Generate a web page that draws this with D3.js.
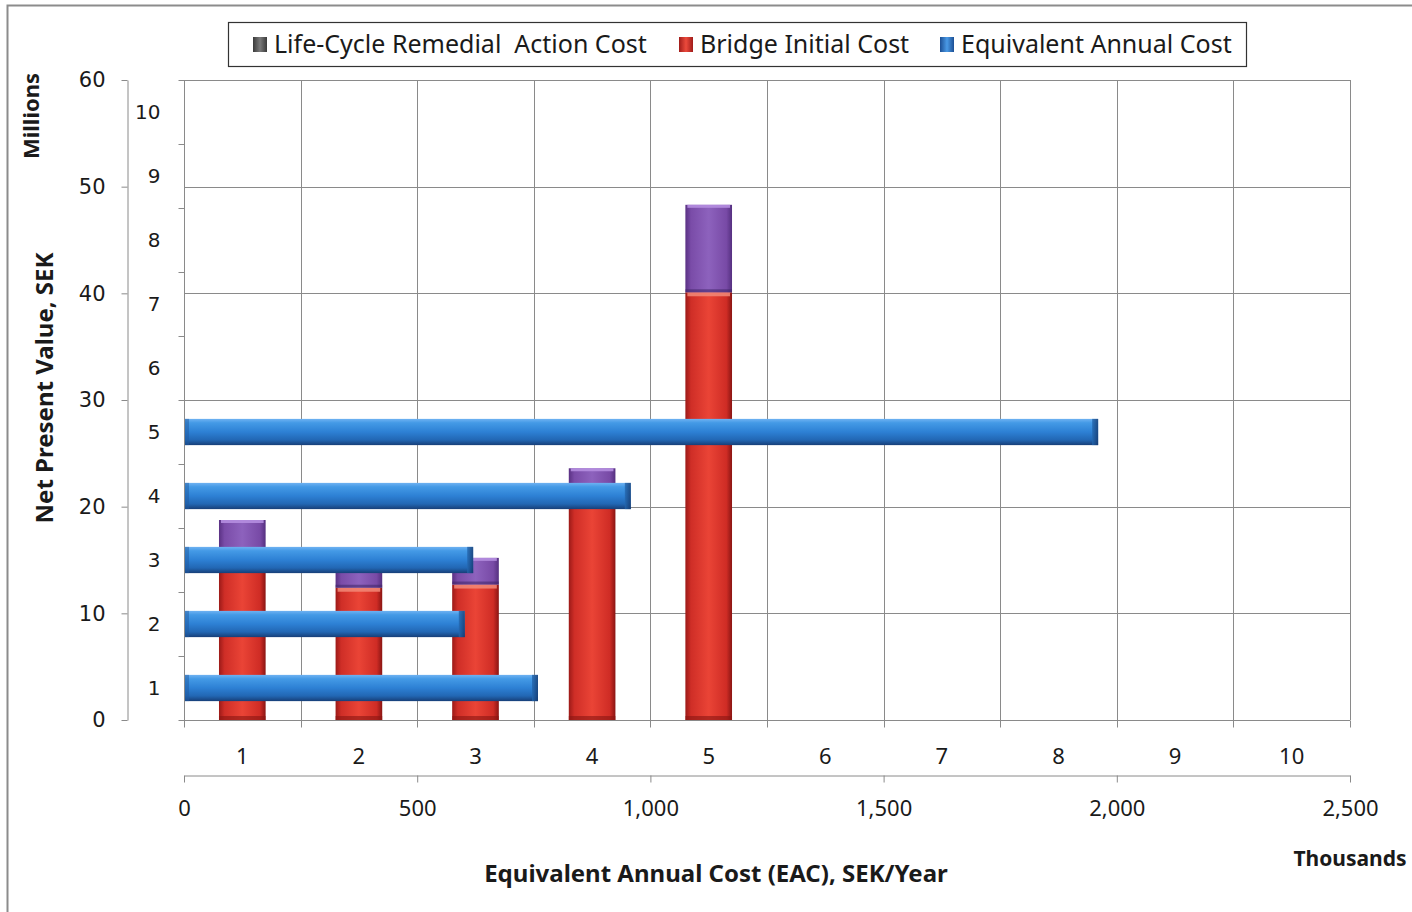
<!DOCTYPE html>
<html>
<head>
<meta charset="utf-8">
<script src="https://cdn.jsdelivr.net/npm/d3@7"></script>
<style>
  html, body { margin: 0; padding: 0; background: #ffffff; }
  svg { display: block; }
  text { fill: #1a1a1a; }
</style>
</head>
<body>
<svg id="chart" width="1412" height="912"></svg>
<script>
// ---- data ----------------------------------------------------------------
const categories = [1, 2, 3, 4, 5, 6, 7, 8, 9, 10];
const barCategories = [1, 2, 3, 4, 5];
// Net present value components, millions SEK
const initialCost = [15.3, 12.4, 12.7, 21.0, 40.1];
const remedialCost = [3.45, 2.6, 2.5, 2.6, 8.2];
// Equivalent annual cost, thousands SEK/year
const annualCost = [759, 602, 620, 958, 1960];
const npvTicks = [0, 10, 20, 30, 40, 50, 60];
const eacTicks = [0, 500, 1000, 1500, 2000, 2500];
const seriesNames = ["Life-Cycle Remedial  Action Cost", "Bridge Initial Cost", "Equivalent Annual Cost"];

// ---- layout --------------------------------------------------------------
const svg = d3.select("#chart");
const plot = { left: 184, right: 1350, top: 80, bottom: 720 };
const gridColor = "#8a8a8a";
const axisColor = "#8a8a8a";
const font = "'Noto Sans', sans-serif";

// chart frame (left and top edges of the chart area)
svg.append("path")
  .attr("d", "M7.5,912 V5.5 H1412")
  .attr("fill", "none").attr("stroke", "#8c8c8c").attr("stroke-width", 2);

// ---- scales --------------------------------------------------------------
const yNpv = d3.scaleLinear().domain([0, 60]).range([plot.bottom, plot.top]);
const xEac = d3.scaleLinear().domain([0, 2500]).range([plot.left, plot.right]);
const xCat = d3.scaleBand().domain(categories).range([plot.left, plot.right])
  .paddingInner(0.6).paddingOuter(0.3);
const yCat = d3.scaleBand().domain(categories).range([plot.bottom, plot.top])
  .paddingInner(0.59).paddingOuter(0.295);
const xStep = xCat.step();

// ---- gradients -----------------------------------------------------------
const defs = svg.append("defs");
function grad(id, horizontal, stops) {
  const g = defs.append("linearGradient").attr("id", id)
    .attr("x1", 0).attr("y1", 0)
    .attr("x2", horizontal ? 1 : 0).attr("y2", horizontal ? 0 : 1);
  stops.forEach(([o, c]) => g.append("stop").attr("offset", o).attr("stop-color", c));
}
grad("redGrad", true, [[0, "#9c1a18"], [0.12, "#cf2e27"], [0.5, "#ea4436"], [0.88, "#cf2c25"], [1, "#8a1513"]]);
grad("purpleGrad", true, [[0, "#5a3184"], [0.12, "#7a4ca8"], [0.5, "#8d62bd"], [0.88, "#784aa6"], [1, "#553080"]]);
grad("blueGrad", false, [[0, "#6fb2f2"], [0.15, "#449ae6"], [0.5, "#2d80d4"], [0.8, "#2267b4"], [1, "#173f78"]]);
grad("blueEnd", true, [[0, "#2468b0"], [1, "#15396e"]]);
grad("grayIcon", true, [[0, "#3a3a3a"], [0.5, "#7a7a7a"], [1, "#3a3a3a"]]);
grad("redIcon", true, [[0, "#a01c1a"], [0.5, "#ec4a3c"], [1, "#a01c1a"]]);
grad("blueIcon", true, [[0, "#1c4f94"], [0.5, "#4a9ae6"], [1, "#1c4f94"]]);

// ---- gridlines -----------------------------------------------------------
const grid = svg.append("g");
grid.selectAll("line.h").data(npvTicks.filter(d => d > 0)).join("line")
  .attr("x1", plot.left).attr("x2", plot.right)
  .attr("y1", d => Math.round(yNpv(d)) + 0.5).attr("y2", d => Math.round(yNpv(d)) + 0.5)
  .attr("stroke", gridColor).attr("stroke-width", 1);
grid.selectAll("line.v").data(categories).join("line")
  .attr("x1", d => Math.round(xCat(d) - xCat.paddingOuter() * xStep + xStep) + 0.5)
  .attr("x2", d => Math.round(xCat(d) - xCat.paddingOuter() * xStep + xStep) + 0.5)
  .attr("y1", plot.top).attr("y2", plot.bottom)
  .attr("stroke", gridColor).attr("stroke-width", 1);

// ---- stacked NPV columns -------------------------------------------------
const colW = xCat.bandwidth();
const cols = svg.append("g");
barCategories.forEach((c, i) => {
  const x = xCat(c);
  const yBase = yNpv(0), yRed = yNpv(initialCost[i]), yTop = yNpv(initialCost[i] + remedialCost[i]);
  // initial cost
  cols.append("rect").attr("x", x).attr("y", yRed).attr("width", colW).attr("height", yBase - yRed)
    .attr("fill", "url(#redGrad)");
  cols.append("rect").attr("x", x + 2).attr("y", yRed).attr("width", colW - 4).attr("height", 4)
    .attr("fill", "#f28a78").attr("opacity", 0.85);
  cols.append("rect").attr("x", x).attr("y", yBase - 4).attr("width", colW).attr("height", 4)
    .attr("fill", "#8a1513").attr("opacity", 0.6);
  // remedial action cost
  cols.append("rect").attr("x", x).attr("y", yTop).attr("width", colW).attr("height", yRed - yTop)
    .attr("fill", "url(#purpleGrad)");
  cols.append("rect").attr("x", x + 2).attr("y", yTop).attr("width", colW - 4).attr("height", 3)
    .attr("fill", "#b58ee0").attr("opacity", 0.9);
  cols.append("rect").attr("x", x).attr("y", yRed - 3).attr("width", colW).attr("height", 3)
    .attr("fill", "#3e2566").attr("opacity", 0.55);
});

// ---- horizontal EAC bars -------------------------------------------------
const barH = yCat.bandwidth();
const bars = svg.append("g");
barCategories.forEach((c, i) => {
  const y = yCat(c), x1 = xEac(annualCost[i]);
  bars.append("rect").attr("x", plot.left + 1).attr("y", y).attr("width", x1 - plot.left - 1).attr("height", barH)
    .attr("fill", "url(#blueGrad)");
  bars.append("rect").attr("x", x1 - 6).attr("y", y).attr("width", 6).attr("height", barH)
    .attr("fill", "url(#blueEnd)").attr("opacity", 0.8);
  bars.append("rect").attr("x", plot.left + 1).attr("y", y).attr("width", 4).attr("height", barH)
    .attr("fill", "#1f5aa0").attr("opacity", 0.5);
});

// ---- axes ----------------------------------------------------------------
function styleAxis(g) {
  g.selectAll("path.domain").attr("stroke", axisColor);
  g.selectAll(".tick line").attr("stroke", axisColor);
  g.selectAll("text").attr("fill", "#1a1a1a");
}

// outer NPV axis
const npvAxis = svg.append("g").attr("transform", "translate(127.5,0)")
  .call(d3.axisLeft(yNpv).tickValues(npvTicks).tickSize(6).tickSizeOuter(0).tickPadding(16)
    .tickFormat(d3.format("d")));
npvAxis.selectAll("text").attr("font-family", "'DejaVu Sans', Verdana, sans-serif").attr("font-size", 21);
styleAxis(npvAxis);

// inner category axis for the horizontal bars
const yCatAxis = svg.append("g").attr("transform", `translate(${plot.left + 0.5},0)`);
yCatAxis.append("line").attr("x1", 0).attr("x2", 0).attr("y1", plot.top).attr("y2", plot.bottom)
  .attr("stroke", axisColor);
yCatAxis.selectAll("line.t").data(d3.range(categories.length + 1)).join("line")
  .attr("x1", -6).attr("x2", 0)
  .attr("y1", k => Math.round(plot.bottom - k * (plot.bottom - plot.top) / categories.length) + 0.5)
  .attr("y2", k => Math.round(plot.bottom - k * (plot.bottom - plot.top) / categories.length) + 0.5)
  .attr("stroke", axisColor);
yCatAxis.selectAll("text").data(categories).join("text")
  .attr("x", -24).attr("y", d => yCat(d) + barH / 2).attr("dy", "0.36em")
  .attr("text-anchor", "end")
  .attr("font-family", "'DejaVu Sans', Verdana, sans-serif").attr("font-size", 20)
  .text(d => d);

// bottom category axis for the columns
const xCatAxis = svg.append("g").attr("transform", `translate(0,${plot.bottom + 0.5})`);
xCatAxis.append("line").attr("x1", plot.left).attr("x2", plot.right).attr("y1", 0).attr("y2", 0)
  .attr("stroke", axisColor);
xCatAxis.selectAll("line.t").data(d3.range(categories.length + 1)).join("line")
  .attr("x1", k => Math.round(plot.left + k * (plot.right - plot.left) / categories.length) + 0.5)
  .attr("x2", k => Math.round(plot.left + k * (plot.right - plot.left) / categories.length) + 0.5)
  .attr("y1", 0).attr("y2", 7)
  .attr("stroke", axisColor);
xCatAxis.selectAll("text").data(categories).join("text")
  .attr("x", d => xCat(d) + colW / 2).attr("y", 36).attr("dy", "0.36em")
  .attr("text-anchor", "middle")
  .attr("font-family", font).attr("font-size", 22)
  .text(d => d);

// EAC axis
const eacAxis = svg.append("g").attr("transform", "translate(0,775.5)")
  .call(d3.axisBottom(xEac).tickValues(eacTicks).tickSize(7).tickSizeOuter(0).tickPadding(18)
    .tickFormat(d3.format(",")));
eacAxis.selectAll("text").attr("font-family", font).attr("font-size", 22);
styleAxis(eacAxis);

// ---- axis titles ---------------------------------------------------------
svg.append("text").attr("transform", "translate(53,388) rotate(-90)")
  .attr("text-anchor", "middle").attr("font-family", font)
  .attr("font-weight", "bold").attr("font-size", 24).text("Net Present Value, SEK");
svg.append("text").attr("transform", "translate(39,116) rotate(-90)")
  .attr("text-anchor", "middle").attr("font-family", font)
  .attr("font-weight", "bold").attr("font-size", 22).text("Millions");
svg.append("text").attr("x", 716).attr("y", 882)
  .attr("text-anchor", "middle").attr("font-family", font)
  .attr("font-weight", "bold").attr("font-size", 24).text("Equivalent Annual Cost (EAC), SEK/Year");
svg.append("text").attr("x", 1350).attr("y", 866)
  .attr("text-anchor", "middle").attr("font-family", font)
  .attr("font-weight", "bold").attr("font-size", 21).text("Thousands");

// ---- legend --------------------------------------------------------------
const legend = svg.append("g");
legend.append("rect").attr("x", 228.5).attr("y", 22.5).attr("width", 1018).attr("height", 44)
  .attr("fill", "#ffffff").attr("stroke", "#333333").attr("stroke-width", 1.2);
const legendIcons = ["url(#grayIcon)", "url(#redIcon)", "url(#blueIcon)"];
const legendX = [253, 679, 940];
seriesNames.forEach((name, i) => {
  legend.append("rect").attr("x", legendX[i]).attr("y", 37).attr("width", 14).attr("height", 15)
    .attr("fill", legendIcons[i]);
  legend.append("text").attr("x", legendX[i] + 21).attr("y", 44).attr("dy", "0.36em")
    .attr("font-family", font).attr("font-size", 25)
    .attr("xml:space", "preserve").style("white-space", "pre")
    .text(name);
});
</script>
</body>
</html>
